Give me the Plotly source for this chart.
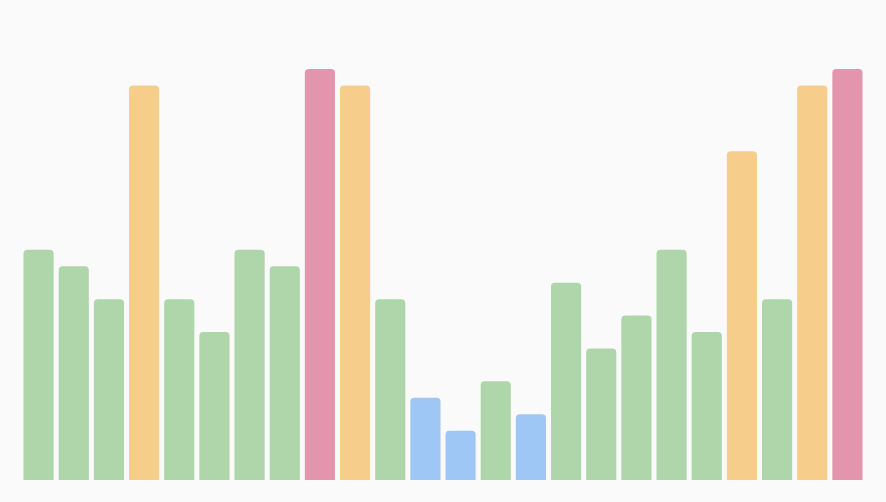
import plotly.graph_objects as go

categories = list(range(1, 25))
values = [14, 13, 11, 24, 11, 9, 14, 13, 25, 24, 11, 5, 3, 6, 4, 12, 8, 10, 14, 9, 20, 11, 24, 25]


def pick_color(v):
    if v <= 5:
        return "#9fc7f5"
    if v < 20:
        return "#afd5aa"
    if v < 25:
        return "#f7cd8b"
    return "#e495ae"


colors = [pick_color(v) for v in values]

fig = go.Figure(go.Bar(
    x=categories,
    y=values,
    marker=dict(color=colors, cornerradius=4, line=dict(width=0)),
    hoverinfo="skip",
))

fig.update_layout(
    width=886,
    height=502,
    bargap=0.143,
    showlegend=False,
    paper_bgcolor="#fafafa",
    plot_bgcolor="#fafafa",
    margin=dict(l=21, r=21, t=69, b=22),
    xaxis=dict(visible=False, range=[0.5, 24.5]),
    yaxis=dict(visible=False, range=[0, 25]),
)

fig.write_html(
    "out.html",
    config={"displayModeBar": False},
    post_script="document.body.style.margin='0';document.body.style.background='#fafafa';",
)
